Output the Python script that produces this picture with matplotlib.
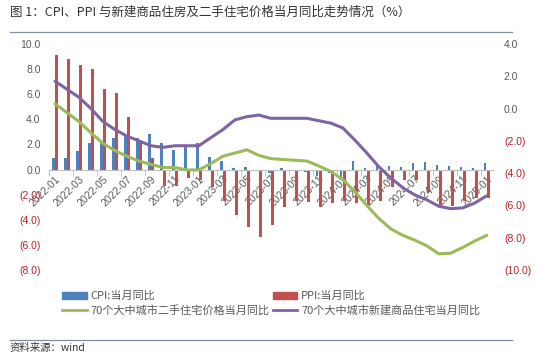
import numpy as np
import matplotlib
matplotlib.use("Agg")
import matplotlib.pyplot as plt
from matplotlib.patches import Patch
from matplotlib.lines import Line2D

plt.rcParams['font.family'] = ['Noto Sans CJK SC', 'DejaVu Sans']

# ---- data ----
months = [f"{y}-{m:02d}" for y in (2022, 2023, 2024) for m in range(1, 13)] + ["2025-01"]

cpi = [0.9, 0.9, 1.5, 2.1, 2.1, 2.5, 2.7, 2.5, 2.8, 2.1, 1.6, 1.8,
       2.1, 1.0, 0.7, 0.1, 0.2, 0.0, -0.3, 0.1, 0.0, -0.2, -0.5, -0.3,
       -0.8, 0.7, 0.1, 0.3, 0.3, 0.2, 0.5, 0.6, 0.4, 0.3, 0.2, 0.1,
       0.5]
ppi = [9.1, 8.8, 8.3, 8.0, 6.4, 6.1, 4.2, 2.3, 0.9, -1.3, -1.3, -0.7,
       -0.8, -1.4, -2.5, -3.6, -4.6, -5.4, -4.4, -3.0, -2.5, -2.6, -3.0, -2.7,
       -2.5, -2.7, -2.8, -2.5, -1.4, -0.8, -0.8, -1.8, -2.8, -2.9, -2.5, -2.3,
       -2.3]
new_home = [1.7, 1.2, 0.7, 0.0, -0.8, -1.3, -1.7, -2.0, -2.3, -2.4, -2.3, -2.3,
            -2.3, -1.8, -1.3, -0.7, -0.5, -0.4, -0.6, -0.6, -0.6, -0.6, -0.75, -0.9,
            -1.2, -1.95, -2.75, -3.6, -4.3, -4.9, -5.35, -5.65, -6.05, -6.2, -6.15, -5.85,
            -5.4]
second_home = [0.3, -0.25, -0.8, -1.5, -2.15, -2.6, -2.95, -3.25, -3.45, -3.65, -3.65, -3.8,
               -3.8, -3.4, -2.95, -2.75, -2.55, -2.9, -3.1, -3.15, -3.2, -3.25, -3.55, -3.9,
               -4.4, -5.15, -6.0, -6.8, -7.45, -7.85, -8.15, -8.5, -9.0, -8.95, -8.6, -8.2,
               -7.85]

blue = "#4F81BD"
red = "#C0504D"
green = "#9BBB59"
purple = "#8064A2"
neg_red = "#B8202A"
gray = "#595959"

fig = plt.figure(figsize=(5.5, 3.61), dpi=100)
ax = fig.add_axes([0.089, 0.252, 0.807, 0.626])
ax2 = ax.twinx()

x = np.arange(len(months))
ax.bar(x - 0.15, cpi, width=0.24, color=blue, zorder=2)
ax.bar(x + 0.15, ppi, width=0.24, color=red, zorder=2)
ax2.plot(x, second_home, color=green, lw=2.2, solid_capstyle='round')
ax2.plot(x, new_home, color=purple, lw=2.2, solid_capstyle='round')

ax.set_xlim(-0.5, len(months) - 0.5)
ax.set_ylim(-8, 10)
ax2.set_ylim(-10, 4)


def fmt(v):
    return f"({abs(v):.1f})" if v < 0 else f"{v:.1f}"


lt = np.arange(-8, 11, 2)
ax.set_yticks(lt)
ax.set_yticklabels([fmt(v) for v in lt], fontsize=7.5, family=['Liberation Sans', 'DejaVu Sans'])
for lab, v in zip(ax.get_yticklabels(), lt):
    lab.set_color(neg_red if v < 0 else gray)

rt = np.arange(-10, 5, 2)
ax2.set_yticks(rt)
ax2.set_yticklabels([fmt(v) for v in rt], fontsize=7.5, family=['Liberation Sans', 'DejaVu Sans'])
for lab, v in zip(ax2.get_yticklabels(), rt):
    lab.set_color(neg_red if v < 0 else gray)

for a in (ax, ax2):
    for s in ("top", "left", "right"):
        a.spines[s].set_visible(False)
    a.tick_params(axis='y', length=0)
ax2.spines["bottom"].set_visible(False)
ax.tick_params(axis='y', pad=6)
ax2.tick_params(axis='y', pad=8)

ax.spines["bottom"].set_position(("data", 0))
ax.spines["bottom"].set_color("#BFBFBF")
ax.set_xticks(x[::2])
ax.set_xticklabels(months[::2], rotation=45, ha='right', va='top', rotation_mode='anchor',
                   fontsize=7.5, color=gray, family=['Liberation Sans', 'DejaVu Sans'])
ax.set_xticks(np.arange(-0.5, len(months), 2), minor=True)
ax.tick_params(axis='x', which='major', length=0, pad=3)
ax.tick_params(axis='x', which='minor', length=4, color="#BFBFBF")

# legend (column-major order so rows read CPI/PPI then the two lines)
handles = [Patch(color=blue), Line2D([], [], color=green, lw=2),
           Patch(color=red), Line2D([], [], color=purple, lw=2)]
labels = ["CPI:当月同比", "70个大中城市二手住宅价格当月同比",
          "PPI:当月同比", "70个大中城市新建商品住宅当月同比"]
fig.legend(handles, labels, ncol=2, loc='upper left', bbox_to_anchor=(0.105, 0.207),
           frameon=False, fontsize=8, handlelength=2.2, handleheight=0.6,
           handletextpad=0.35, columnspacing=0.3, labelspacing=0.35,
           labelcolor=gray, borderaxespad=0)

# title and source
fig.text(0.018, 0.965, "图 1：CPI、PPI 与新建商品住房及二手住宅价格当月同比走势情况（%）",
         fontsize=9.0, color="#333333", va='center', ha='left')
fig.add_artist(Line2D([0.018, 0.93], [0.912, 0.912], color="#7F8FA0", lw=0.9))
fig.add_artist(Line2D([0.018, 0.93], [0.058, 0.058], color="#7F8FA0", lw=0.9))
fig.text(0.018, 0.035, "资料来源：wind", fontsize=7.5, color="#333333", va='center', ha='left')

fig.savefig("out.png", dpi=100)
